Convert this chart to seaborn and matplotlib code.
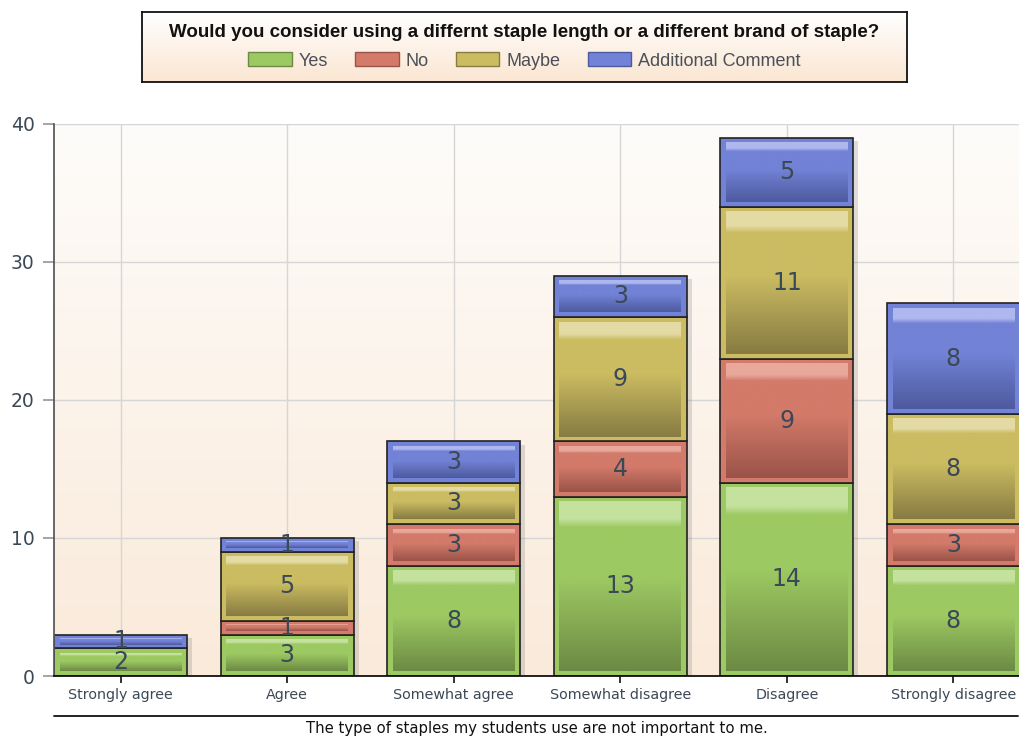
import numpy as np
import pandas as pd
import matplotlib
matplotlib.use("Agg")
import matplotlib.pyplot as plt
import seaborn as sns
from matplotlib.colors import LinearSegmentedColormap
from matplotlib.patches import Patch, Rectangle
from matplotlib.lines import Line2D

# data
categories = ["Strongly agree", "Agree", "Somewhat agree",
              "Somewhat disagree", "Disagree", "Strongly disagree"]
series_names = ["Yes", "No", "Maybe", "Additional Comment"]
yes_counts = [2, 3, 8, 13, 14, 8]
no_counts = [0, 1, 3, 4, 9, 3]
maybe_counts = [0, 5, 3, 9, 11, 8]
comment_counts = [1, 1, 3, 3, 5, 8]

legend_title = "Would you consider using a differnt staple length or a different brand of staple?"
x_title = "The type of staples my students use are not important to me."

# base / light / dark shades per series
palette = {
    "Yes": ("#9DC962", "#C4E29E", "#6C8A44"),
    "No": ("#D37A6A", "#E8A89C", "#9A5348"),
    "Maybe": ("#CBBC62", "#E4DBA4", "#877B42"),
    "Additional Comment": ("#7282D6", "#AEB8EE", "#4D5A9E"),
}

sns.set_theme(style="white")
plt.rcParams["font.family"] = ["DejaVu Sans"]

fig = plt.figure(figsize=(10.2, 7.41), dpi=100)
ax = fig.add_axes([54 / 1020, 1 - 676 / 741, 966 / 1020, 552 / 741])

# plot background gradient (white at top to peach at bottom)
bg = LinearSegmentedColormap.from_list("bg", ["#FAEADA", "#FEFCFA"])
ax.imshow(np.linspace(0, 1, 256).reshape(-1, 1)[::-1], cmap=bg, aspect="auto",
          extent=[0, 1, 0, 1], transform=ax.transAxes, zorder=0)

text_col = "#3B4856"
series_values = [yes_counts, no_counts, maybe_counts, comment_counts]
bottom = np.zeros(len(categories))
segments = []

for name, vals in zip(series_names, series_values):
    base, light, dark = palette[name]
    vals = np.array(vals, dtype=float)
    sns.barplot(x=categories, y=vals, bottom=bottom, color=base, width=0.8,
                order=categories, errorbar=None, saturation=1,
                edgecolor="#222222", linewidth=1.2, zorder=3, ax=ax)
    for i, v in enumerate(vals):
        if v > 0:
            segments.append((i, bottom[i], v, name))
    bottom = bottom + vals

# hide zero-height bars
for p in ax.patches:
    if p.get_height() == 0:
        p.set_linewidth(0)

# inner gradient, drop shadow and value labels
for i, b, h, name in segments:
    base, light, dark = palette[name]
    cmap = LinearSegmentedColormap.from_list(
        name, [(0, dark), (0.55, base), (0.85, base), (0.9, light), (1, light)])
    dx = 0.035
    dy = min(0.35, 0.28 * h)
    grad = np.linspace(0, 1, 128).reshape(-1, 1)[::-1]
    ax.imshow(grad, cmap=cmap, aspect="auto", interpolation="bilinear",
              extent=[i - 0.4 + dx, i + 0.4 - dx, b + dy, b + h - dy], zorder=4)
    ax.add_patch(Rectangle((i - 0.4 + 0.03, b - 0.25), 0.8, h, facecolor="#808080",
                           alpha=0.25, linewidth=0, zorder=2))
    ax.text(i, b + h / 2, f"{int(h)}", ha="center", va="center",
            fontsize=17, color=text_col, zorder=6)

ax.set_xlim(-0.4, 5.4)
ax.set_ylim(0, 40)
ax.set_yticks([0, 10, 20, 30, 40])
ax.grid(True, color="#D6D6D6", linewidth=1, zorder=1)
ax.set_axisbelow(True)

for s in ["top", "right"]:
    ax.spines[s].set_visible(False)
ax.spines["left"].set_color("#555555")
ax.spines["bottom"].set_color("#111111")
ax.spines["bottom"].set_linewidth(1.3)
ax.spines["left"].set_zorder(7)
ax.spines["bottom"].set_zorder(7)

ax.tick_params(axis="y", left=True, length=8, color="#999999", labelsize=13.5,
               labelcolor=text_col, pad=6)
ax.tick_params(axis="x", bottom=True, length=5, width=1.2, color="#111111",
               labelsize=10.3, labelcolor=text_col, pad=4)
ax.set_xlabel("")
ax.set_ylabel("")

# axis title with rule above it
fig.add_artist(Line2D([54 / 1020, 1018 / 1020], [1 - 716 / 741] * 2,
                      color="#111111", linewidth=1.3))
fig.text(537 / 1020, 1 - 728 / 741, x_title, ha="center", va="center",
         fontsize=10.7, color="#111111")

# legend box with gradient background
lax = fig.add_axes([142 / 1020, 1 - 82 / 741, 765 / 1020, 70 / 741])
lbg = LinearSegmentedColormap.from_list("lbg", ["#FBE6D2", "#FFFFFF"])
lax.imshow(np.linspace(0, 1, 64).reshape(-1, 1)[::-1], cmap=lbg, aspect="auto",
           extent=[0, 1, 0, 1], transform=lax.transAxes)
lax.set_xticks([])
lax.set_yticks([])
for s in lax.spines.values():
    s.set_visible(True)
    s.set_color("#111111")
    s.set_linewidth(1.3)

handles = [Patch(facecolor=palette[n][0], edgecolor=palette[n][2], linewidth=1)
           for n in series_names]
leg = lax.legend(handles, series_names, loc="center", ncol=4, frameon=False,
                 title=legend_title, fontsize=13, handlelength=2.4,
                 handleheight=0.8, handletextpad=0.4, columnspacing=1.5,
                 borderpad=0.2, title_fontproperties={"weight": "bold", "size": 13.5,
                                                       "family": "Liberation Sans"})
for t in leg.get_texts():
    t.set_color("#4A4F58")
    t.set_family("Liberation Sans")
leg.get_title().set_color("#111111")
leg._legend_box.sep = 8

fig.savefig("out.png", dpi=100)
